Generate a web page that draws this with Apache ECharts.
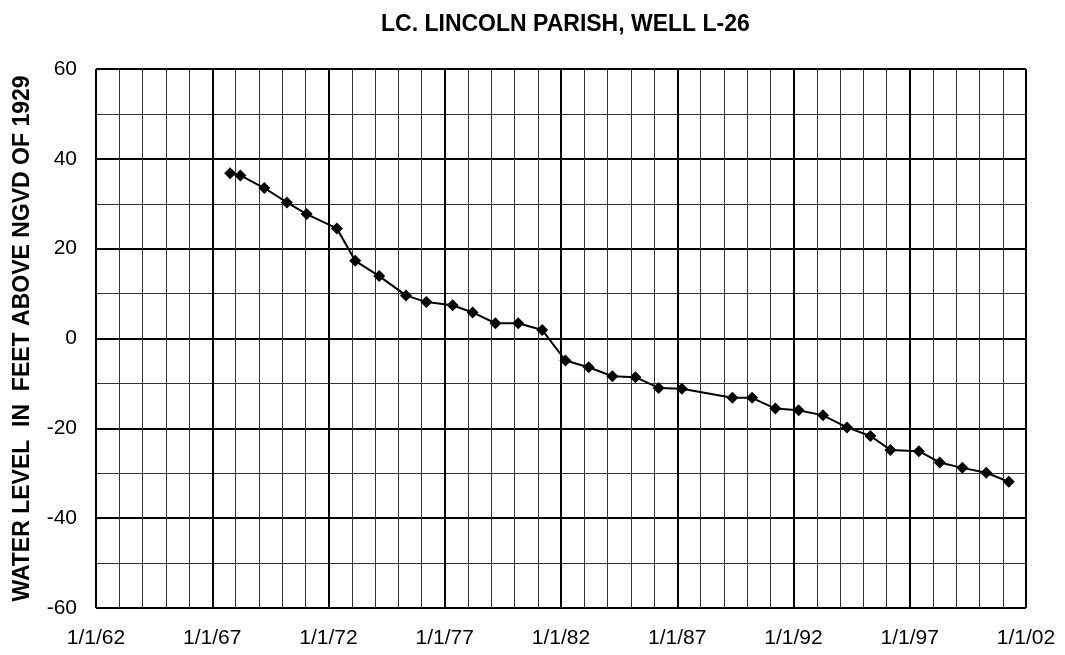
<!DOCTYPE html>
<html>
<head>
<meta charset="utf-8">
<script src="https://cdn.jsdelivr.net/npm/echarts@6/dist/echarts.min.js"></script>
<style>
  html, body { margin: 0; padding: 0; background: #fff; }
  #main { width: 1065px; height: 655px; }
</style>
</head>
<body>
<div id="main"></div>
<script>
// decimal years and water level in feet
var years = [1967.77, 1968.21, 1969.24, 1970.21, 1971.06, 1972.36, 1973.15, 1974.18,
  1975.33, 1976.21, 1977.34, 1978.2, 1979.18, 1980.16, 1981.19, 1982.19, 1983.19,
  1984.21, 1985.2, 1986.2, 1987.2, 1989.37, 1990.22, 1991.22, 1992.22, 1993.27,
  1994.3, 1995.31, 1996.17, 1997.39, 1998.29, 1999.26, 2000.29, 2001.26];
var levels = [36.8, 36.3, 33.5, 30.3, 27.7, 24.5, 17.3, 13.9,
  9.6, 8.1, 7.4, 5.8, 3.4, 3.4, 1.9, -4.9, -6.4,
  -8.4, -8.6, -11.0, -11.2, -13.2, -13.2, -15.6, -16.0, -17.1,
  -19.8, -21.7, -24.8, -25.1, -27.6, -28.8, -29.9, -31.9];

var pts = years.map(function (y, i) { return [y, levels[i]]; });

var myChart = echarts.init(document.getElementById('main'));
var option = {
    animation: false,
    title: {
        text: 'LC. LINCOLN PARISH, WELL L-26',
        left: 376,
        top: 8,
        textStyle: { fontFamily: 'Liberation Sans', fontSize: 23, fontWeight: 'bold', color: '#000' }
    },
    grid: { left: 96, right: 39, top: 69, bottom: 47 },
    xAxis: {
        type: 'value',
        min: 1962, max: 2002, interval: 5,
        axisLine: { show: false },
        axisTick: { show: false },
        axisLabel: {
            margin: 20,
            fontFamily: 'Liberation Sans', fontSize: 21, color: '#000',
            formatter: function (v) { return '1/1/' + String(v).slice(2); }
        },
        splitLine: { show: true, lineStyle: { color: '#000', width: 2 } },
        minorTick: { show: false, splitNumber: 5 },
        minorSplitLine: { show: true, lineStyle: { color: '#333', width: 1 } }
    },
    yAxis: {
        type: 'value',
        min: -60, max: 60, interval: 20,
        name: 'WATER LEVEL  IN  FEET ABOVE NGVD OF 1929',
        nameLocation: 'middle',
        nameGap: 62,
        nameTextStyle: { fontFamily: 'Liberation Sans', fontSize: 23, fontWeight: 'bold', color: '#000' },
        axisLine: { show: false },
        axisTick: { show: false },
        axisLabel: { margin: 19, fontFamily: 'Liberation Sans', fontSize: 21, color: '#000' },
        splitLine: { show: true, lineStyle: { color: '#000', width: 2 } },
        minorTick: { show: false, splitNumber: 2 },
        minorSplitLine: { show: true, lineStyle: { color: '#333', width: 1 } }
    },
    series: [{
        type: 'line',
        data: pts,
        symbol: 'diamond',
        symbolSize: 12,
        lineStyle: { color: '#000', width: 2 },
        itemStyle: { color: '#000' }
    }]
};
myChart.setOption(option);
</script>
</body>
</html>
